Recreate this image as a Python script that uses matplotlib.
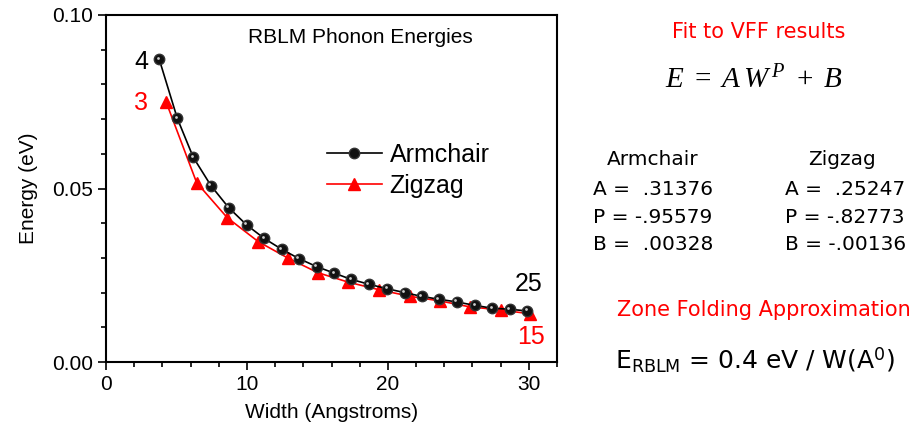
import matplotlib
matplotlib.use('Agg')
import matplotlib.pyplot as plt
from matplotlib.transforms import offset_copy
from matplotlib.ticker import MultipleLocator

plt.rcParams['font.family'] = ['Liberation Sans', 'DejaVu Sans']
plt.rcParams['mathtext.fontset'] = 'custom'
plt.rcParams['mathtext.rm'] = 'Liberation Serif'
plt.rcParams['mathtext.it'] = 'Liberation Serif:italic'
plt.rcParams['mathtext.sf'] = 'DejaVu Sans'

# ribbon widths (Angstroms) and RBLM energies (eV)
arm_width = [3.78, 5.06, 6.19, 7.45, 8.70, 9.98, 11.23, 12.46, 13.69, 14.94, 16.2,
             17.4, 18.67, 19.95, 21.2, 22.4, 23.6, 24.9, 26.2, 27.4, 28.65, 29.9]
arm_energy = [0.0872, 0.0702, 0.0590, 0.0508, 0.0445, 0.0395, 0.0356, 0.0325, 0.0298,
              0.0275, 0.0256, 0.0238, 0.0224, 0.0211, 0.0200, 0.0189, 0.0181, 0.0173,
              0.0163, 0.0155, 0.0152, 0.0147]
zig_width = [4.26, 6.43, 8.6, 10.8, 12.93, 15.06, 17.2, 19.4, 21.6, 23.7, 25.8, 28.0, 30.07]
zig_energy = [0.0750, 0.0517, 0.0416, 0.0347, 0.0299, 0.0257, 0.0230, 0.0208, 0.0189,
              0.0176, 0.0159, 0.0150, 0.0139]

arm_fit = ['A =  .31376', 'P = -.95579', 'B =  .00328']
zig_fit = ['A =  .25247', 'P = -.82773', 'B = -.00136']

W, H = 914, 437
fig = plt.figure(figsize=(W / 100, H / 100), dpi=100)
ax = fig.add_axes([106 / W, (H - 362) / H, 451 / W, 347 / H])

zig_line, = ax.plot(zig_width, zig_energy, color='red', lw=1.2, marker='^', ms=8,
                    mec='red', mfc='red', label='Zigzag', zorder=2)
arm_line, = ax.plot(arm_width, arm_energy, color='black', lw=1.2, marker='o', ms=7.5,
                    mfc='#111111', mec='#333333', label='Armchair', zorder=3)
# little shine on the balls
shine = offset_copy(ax.transData, fig=fig, x=-1.2, y=1.2, units='points')
ax.plot(arm_width, arm_energy, ls='none', marker='o', ms=2, mfc='#cccccc',
        mec='none', transform=shine, zorder=4)

ax.set_xlim(0, 32)
ax.set_ylim(0, 0.10)
ax.xaxis.set_major_locator(MultipleLocator(10))
ax.xaxis.set_minor_locator(MultipleLocator(2))
ax.yaxis.set_major_locator(MultipleLocator(0.05))
ax.yaxis.set_minor_locator(MultipleLocator(0.01))
ax.yaxis.set_major_formatter(matplotlib.ticker.FormatStrFormatter('%.2f'))
ax.tick_params(which='major', length=6, width=1.2, labelsize=15, direction='out')
ax.tick_params(which='minor', length=3.5, width=1.2, direction='out')
for s in ax.spines.values():
    s.set_linewidth(1.5)

ax.set_xlabel('Width (Angstroms)', fontsize=15, labelpad=6)
ax.set_ylabel('Energy (eV)', fontsize=15, labelpad=10)

ax.text(0.565, 0.935, 'RBLM Phonon Energies', transform=ax.transAxes,
        ha='center', va='center', fontsize=15)
ax.text(2.98, 0.0865, '4', ha='right', va='center', fontsize=18)
ax.text(2.98, 0.0746, '3', ha='right', va='center', fontsize=18, color='red')
ax.text(29.0, 0.0225, '25', ha='left', va='center', fontsize=18)
ax.text(29.15, 0.0072, '15', ha='left', va='center', fontsize=18, color='red')

ax.legend(handles=[arm_line, zig_line], labels=['Armchair', 'Zigzag'],
          loc='upper left', bbox_to_anchor=(0.49, 0.632), frameon=False,
          fontsize=18, handlelength=2.2, handletextpad=0.3, labelspacing=0.3,
          borderpad=0, borderaxespad=0)

# right hand panel
def ftext(x, y, s, **kw):
    fig.text(x / W, 1 - y / H, s, **kw)

ftext(759, 32, 'Fit to VFF results', color='red', fontsize=15,
      family='DejaVu Sans', ha='center', va='center')
ftext(754, 80, r'$E\ =\ A\,W^{\,P}\ +\ B$', fontsize=21, ha='center', va='center')
ftext(653, 160, 'Armchair', fontsize=14.5, family='DejaVu Sans', ha='center', va='center')
ftext(842, 160, 'Zigzag', fontsize=14.5, family='DejaVu Sans', ha='center', va='center')
for i, (a, z) in enumerate(zip(arm_fit, zig_fit)):
    ftext(593, 190 + 27.5 * i, a, fontsize=14.5, family='DejaVu Sans', va='center')
    ftext(785, 190 + 27.5 * i, z, fontsize=14.5, family='DejaVu Sans', va='center')
ftext(617, 310, 'Zone Folding Approximation', color='red', fontsize=15,
      family='DejaVu Sans', va='center')
ftext(615, 360, r'$\mathsf{E}_{\mathsf{RBLM}}$ = 0.4 eV / W(A$^{\mathsf{0}}$)',
      fontsize=18, family='DejaVu Sans', va='center')

fig.savefig('out.png', dpi=100)
